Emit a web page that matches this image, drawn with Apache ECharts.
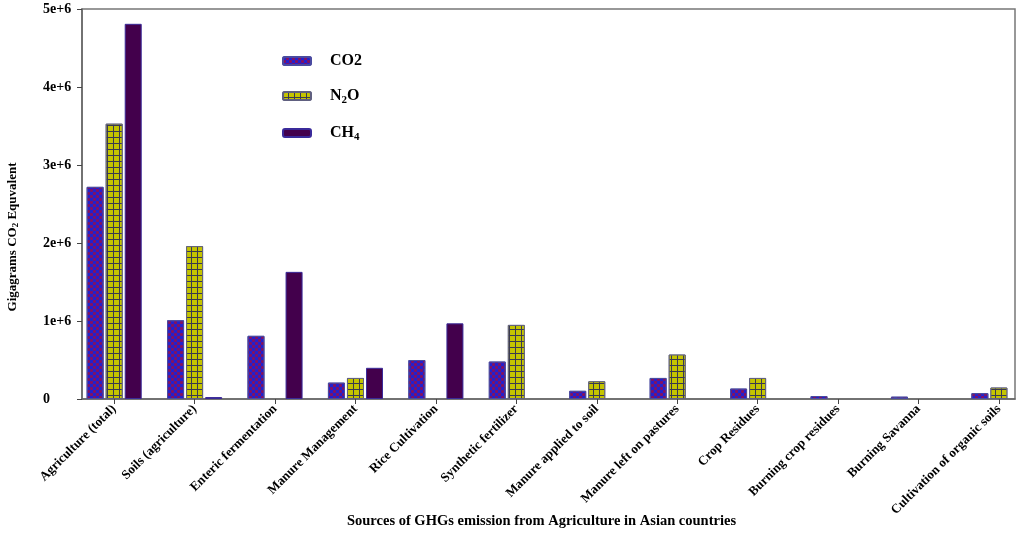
<!DOCTYPE html>
<html><head><meta charset="utf-8">
<script src="https://cdn.jsdelivr.net/npm/echarts@6/dist/echarts.min.js"></script>
<style>html,body{margin:0;padding:0;background:#fff}#c{width:1021px;height:538px}</style>
</head><body><div id="c"></div>
<script>
var categories = ['Agriculture (total)','Soils (agriculture)','Enteric fermentation','Manure Management','Rice Cultivation','Synthetic fertilizer','Manure applied to soil','Manure left on pastures','Crop Residues','Burning crop residues','Burning Savanna','Cultivation of organic soils'];
var co2 = [2720000, 1010000, 810000, 210000, 500000, 480000, 105000, 270000, 134000, 38000, 30000, 75000];
var n2o = [3530000, 1960000, null, 270000, null, 950000, 227000, 570000, 270000, null, null, 147000];
var ch4 = [4810000, 25000, 1630000, 400000, 970000, null, null, null, null, null, null, null];
var yTicks = ['0','1e+6','2e+6','3e+6','4e+6','5e+6'];

function pts(arr){ var o=[]; arr.forEach(function(v,i){ if(v!==null) o.push([i,v]); }); return o; }
var idx = categories.map(function(c,i){return i;});
var serif = 'Liberation Serif';
var chart = echarts.init(document.getElementById('c'));
chart.setOption({
  animation:false,
  backgroundColor:'#fff',
  grid:{left:82,right:6,top:9,bottom:139,outerBoundsMode:'none',containLabel:false,show:true,borderColor:'#777',borderWidth:1.5},
  legend:{
    orient:'vertical', left:277, top:48, itemWidth:28, itemHeight:8, itemGap:19,
    textStyle:{fontFamily:serif,fontWeight:'bold',fontSize:16,color:'#000',padding:[0,0,0,14],
      rich:{sub:{fontFamily:serif,fontWeight:'bold',fontSize:11,color:'#000',verticalAlign:'bottom',padding:[9,0,0,0]}}},
    formatter:function(n){ if(n==='N2O') return 'N{sub|2}O'; if(n==='CH4') return 'CH{sub|4}'; return n; },
    data:['CO2','N2O','CH4']
  },
  xAxis:{
    type:'value', min:-0.4, max:11.2,
    splitLine:{show:false},
    axisLine:{onZero:false,lineStyle:{color:'#666',width:1.5}},
    axisTick:{customValues:idx,length:5,lineStyle:{color:'#444'}},
    axisLabel:{customValues:idx,rotate:45,fontFamily:serif,fontWeight:'bold',fontSize:13,color:'#000',margin:8,
      formatter:function(v){return categories[Math.round(v)];}},
    name:'Sources of GHGs emission from Agriculture in Asian countries',
    nameLocation:'middle', nameGap:115, nameMoveOverlap:false,
    nameTextStyle:{fontFamily:serif,fontWeight:'bold',fontSize:14.5,color:'#000',padding:[0,14,0,0]}
  },
  yAxis:{
    type:'value', min:0, max:5000000, interval:1000000,
    splitLine:{show:false},
    axisLine:{show:true,onZero:false,lineStyle:{color:'#666',width:1.5}},
    axisTick:{show:true,length:5,lineStyle:{color:'#444'}},
    axisLabel:{fontFamily:serif,fontWeight:'bold',fontSize:14,color:'#000',margin:39,align:'left',
      formatter:function(v){return yTicks[Math.round(v/1000000)];}},
    name:'Gigagrams CO{sub|2} Equvalent', nameLocation:'middle', nameGap:62, nameRotate:90, nameMoveOverlap:false,
    nameTextStyle:{fontFamily:serif,fontWeight:'bold',fontSize:13,color:'#000',padding:[0,66,0,0],
      rich:{sub:{fontFamily:serif,fontWeight:'bold',fontSize:9,color:'#000',verticalAlign:'bottom',padding:[6,0,0,0]}}}
  },
  series:[
    {name:'CO2',type:'bar',barWidth:17,barGap:'12%',data:pts(co2),
     itemStyle:{color:'#2420cc',borderColor:'#4a4aa0',borderWidth:1,
       decal:{symbol:'rect',symbolSize:0.9,color:'#8c1058',dashArrayX:[[3,3],[0,3,3,0]],dashArrayY:[3,0],rotation:0}}},
    {name:'N2O',type:'bar',barWidth:17,barGap:'12%',data:pts(n2o),
     itemStyle:{color:'#3a3a50',borderColor:'#606080',borderWidth:1,
       decal:{symbol:'rect',symbolSize:1,color:'#c4c400',dashArrayX:[5,1],dashArrayY:[5,1],rotation:0}}},
    {name:'CH4',type:'bar',barWidth:17,barGap:'12%',data:pts(ch4),
     itemStyle:{color:'#43004c',borderColor:'#3a2a9a',borderWidth:1}}
  ]
});
</script></body></html>
